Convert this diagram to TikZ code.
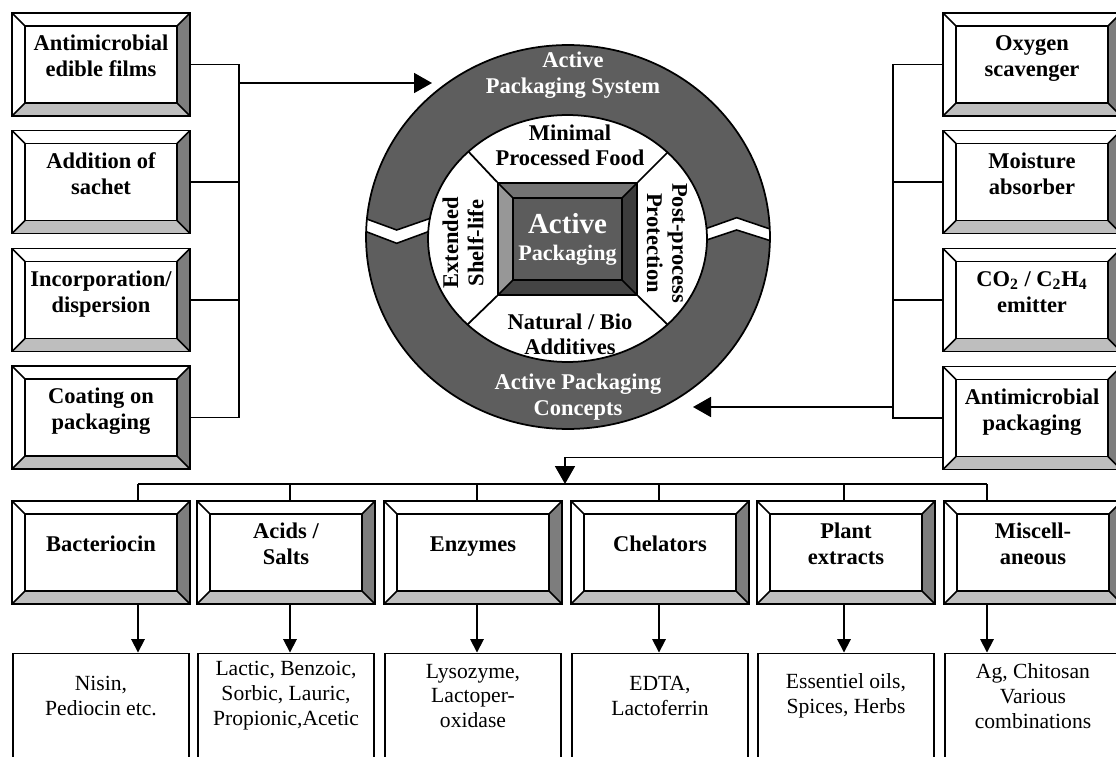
\documentclass[tikz,border=0pt]{standalone}
\usepackage{fontspec}
\setmainfont{Liberation Serif}
\usetikzlibrary{arrows.meta}

\definecolor{ringgray}{HTML}{5E5E5E}
\definecolor{sidegray}{HTML}{7D7D7D}
\definecolor{basegray}{HTML}{BEBEBE}
\definecolor{coreface}{HTML}{5C5C5C}
\definecolor{coretop}{HTML}{737373}
\definecolor{coreleft}{HTML}{979797}
\definecolor{coreright}{HTML}{3C3C3C}
\definecolor{corebottom}{HTML}{444444}

\newcommand{\boxlines}[1]{\raisebox{0pt}[\dimexpr\height-3.5pt\relax][\dimexpr\depth+3.5pt\relax]{\begin{tabular}{@{}c@{}}#1\end{tabular}}}

\tikzset{
  bevel/.style n args={6}{path picture={
    \coordinate (o1) at (path picture bounding box.north west);
    \coordinate (o2) at (path picture bounding box.north east);
    \coordinate (o3) at (path picture bounding box.south east);
    \coordinate (o4) at (path picture bounding box.south west);
    \coordinate (i1) at ([shift={(#6,-#6)}]o1);
    \coordinate (i2) at ([shift={(-#6,-#6)}]o2);
    \coordinate (i3) at ([shift={(-#6,#6)}]o3);
    \coordinate (i4) at ([shift={(#6,#6)}]o4);
    \fill[#1] (o1) -- (o2) -- (i2) -- (i1) -- cycle;
    \fill[#2] (o1) -- (i1) -- (i4) -- (o4) -- cycle;
    \fill[#3] (o2) -- (o3) -- (i3) -- (i2) -- cycle;
    \fill[#4] (o4) -- (i4) -- (i3) -- (o3) -- cycle;
    \draw[line width=0.9pt] (o1) -- (i1) (o2) -- (i2) (o3) -- (i3) (o4) -- (i4);
    \filldraw[fill=#5, line width=1pt] (i1) rectangle (i3);
  }},
  choice/.style={draw, line width=1.1pt, minimum width=3.56cm, minimum height=2.06cm,
    inner sep=0pt, font=\bfseries\fontsize{12.8}{14.8}\selectfont,
    bevel={white}{white}{sidegray}{basegray}{white}{0.26cm}},
  result/.style={draw, line width=1.1pt, minimum width=3.52cm, minimum height=2.3cm},
  resultlbl/.style={align=center, font=\fontsize{12.3}{14.2}\selectfont},
  ringlbl/.style={align=center, text=white, font=\bfseries\fontsize{12.8}{14.8}\selectfont},
  sectorlbl/.style={align=center, font=\bfseries\fontsize{12.8}{14.4}\selectfont},
  link/.style={line width=1pt},
  bigtip/.style={link, -{Triangle[length=0.36cm, width=0.4cm]}},
  smalltip/.style={link, -{Triangle[length=0.27cm, width=0.27cm]}},
}

\begin{document}
\begin{tikzpicture}[x=0.02cm, y=-0.02cm]
\useasboundingbox (0,0) rectangle (1116,757);
\clip (0,0) rectangle (1116,757);

% ring in the middle
\fill[ringgray] (568,237) ellipse [x radius=4.04cm, y radius=3.84cm];
\begin{scope}
  \clip (568,237) ellipse [x radius=4.04cm, y radius=3.84cm];
  \fill[white] (355,214.7) -- (396.7,230) -- (435,216.7) -- (435,229.2) -- (396.7,243.3) -- (355,227.4) -- cycle;
  \draw[line width=0.9pt] (355,214.7) -- (396.7,230) -- (435,216.7) (355,227.4) -- (396.7,243.3) -- (435,229.2);
  \fill[white] (700,230.7) -- (736.7,217.7) -- (778,231.7) -- (778,243.1) -- (736.7,230) -- (700,242.2) -- cycle;
  \draw[line width=0.9pt] (700,230.7) -- (736.7,217.7) -- (778,231.7) (700,242.2) -- (736.7,230) -- (778,243.1);
\end{scope}
\filldraw[fill=white, line width=1pt] (567.5,238.5) ellipse [x radius=2.79cm, y radius=2.47cm];
\draw[line width=1pt] (568,237) ellipse [x radius=4.04cm, y radius=3.84cm];

\node[draw, line width=1pt, minimum width=2.78cm, minimum height=2.24cm, inner sep=0pt,
  bevel={coretop}{coreleft}{coreright}{corebottom}{coreface}{0.3cm},
  text=white, align=center, font=\bfseries\fontsize{16.5}{15.3}\selectfont]
  (core) at (567.5,239) {Active\\{\fontsize{12.6}{15}\selectfont Packaging}};

\begin{scope}
  \clip (567.5,238.5) ellipse [x radius=2.79cm, y radius=2.47cm];
  \draw[link] (core.north west) -- ++(-62,-66);
  \draw[link] (core.north east) -- ++(66,-66);
  \draw[link] (core.south west) -- ++(-60,58);
  \draw[link] (core.south east) -- ++(60,58);
\end{scope}

\node[ringlbl] (system) at (573,75) {Active\\Packaging System};
\node[ringlbl] (concepts) at (578,397) {Active Packaging\\Concepts};
\node[sectorlbl] (minimal) at (570,145) {Minimal\\Processed Food};
\node[sectorlbl] (natural) at (570,334) {Natural / Bio\\Additives};
\node[sectorlbl, rotate=90] (shelf) at (463,243) {Extended\\Shelf-life};
\node[sectorlbl, rotate=-90] (post) at (667,243) {Post-process\\Protection};

% left column
\foreach \i/\y/\txt in {1/64.5/{Antimicrobial\\edible films}, 2/182/{Addition of\\sachet},
    3/300/{Incorporation/\\dispersion}, 4/417.5/{Coating on\\packaging}}
  \node[choice] (l\i) at (101,\y) {\boxlines{\txt}};

% right column
\foreach \i/\y/\txt in {1/64.5/{Oxygen\\scavenger}, 2/182/{Moisture\\absorber},
    3/300/{CO\textsubscript{2} / C\textsubscript{2}H\textsubscript{4}\\emitter}, 4/418/{Antimicrobial\\packaging}}
  \node[choice] (r\i) at (1032,\y) {\boxlines{\txt}};

\coordinate (lspine) at (239,83);
\coordinate (systemin) at (432,83);
\draw[link] (l1.east) -| (lspine |- l4.east) -- (l4.east);
\foreach \i in {2,3}
  \draw[link] (l\i.east) -- (lspine |- l\i.east);
\draw[bigtip] (lspine) -- (systemin);

\coordinate (rspine) at (893,407);
\coordinate (conceptsin) at (693,407);
\draw[link] (r1.west) -| (rspine |- r4.west) -- (r4.west);
\foreach \i in {2,3}
  \draw[link] (r\i.west) -- (rspine |- r\i.west);
\draw[bigtip] (rspine) -- (conceptsin);

% bottom row
\foreach \i/\bx/\sx/\ttl/\res in {
    1/101/138/{Bacteriocin}/{Nisin,\\Pediocin etc.},
    2/286/290/{Acids /\\Salts}/{Lactic, Benzoic,\\Sorbic, Lauric,\\Propionic,Acetic},
    3/473/477/{Enzymes}/{Lysozyme,\\Lactoper-\\oxidase},
    4/660/659/{Chelators}/{EDTA,\\Lactoferrin},
    5/846/844/{Plant\\extracts}/{Essentiel oils,\\Spices, Herbs},
    6/1033/987/{Miscell-\\aneous}/{Ag, Chitosan\\Various\\combinations}} {
  \node[choice] (b\i) at (\bx,552.5) {\boxlines{\ttl}};
  \node[result] (t\i) at (\bx,711) {};
  \node[resultlbl] (c\i) at (\bx,696) {\res};
  \coordinate (s\i) at (\sx,484);
  \draw[link] (s\i) -- (s\i |- b\i.north);
  \draw[smalltip] (s\i |- b\i.south) -- (s\i |- t\i.north);
}
\coordinate (bus) at (565,484);
\draw[link] (s1) -- (s6);
\draw[bigtip] ([yshift=0.26cm]r4.south west) -| (bus);
\end{tikzpicture}
\end{document}
